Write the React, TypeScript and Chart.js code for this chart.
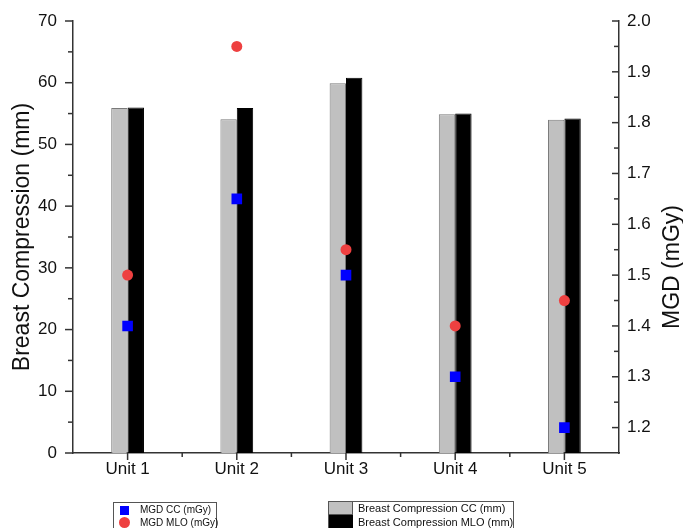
import React, { useEffect, useRef } from 'react';
import { Chart, registerables } from 'chart.js';

Chart.register(...registerables);

const categories = ['Unit 1', 'Unit 2', 'Unit 3', 'Unit 4', 'Unit 5'];
const compressionCC = [55.9, 54.1, 59.9, 54.9, 54.0];
const compressionMLO = [56.0, 55.9, 60.8, 55.0, 54.2];
const mgdCC = [1.4, 1.65, 1.5, 1.3, 1.2];
const mgdMLO = [1.5, 1.95, 1.55, 1.4, 1.45];
const leftTickValues = [0, 10, 20, 30, 40, 50, 60, 70];
const rightTickValues = [1.2, 1.3, 1.4, 1.5, 1.6, 1.7, 1.8, 1.9, 2.0];
const leftTitle = 'Breast Compression (mm)';
const rightTitle = 'MGD (mGy)';

const FONT = '"Liberation Sans", Arial, sans-serif';
const AXIS = '#333333';

const decorPlugin = {
  id: 'decor',
  afterDraw(chart: any) {
    const ctx = chart.ctx as CanvasRenderingContext2D;
    const yL = chart.scales.y;
    const yR = chart.scales.y1;
    const x = chart.scales.x;
    const area = chart.chartArea;
    ctx.save();
    ctx.strokeStyle = AXIS;
    ctx.lineWidth = 1.5;
    const line = (x1: number, y1: number, x2: number, y2: number) => {
      ctx.beginPath();
      ctx.moveTo(x1, y1);
      ctx.lineTo(x2, y2);
      ctx.stroke();
    };
    for (let i = 0; i <= 14; i++) {
      const v = i * 5;
      const py = yL.getPixelForValue(v);
      const len = i % 2 === 0 ? 8 : 5;
      line(area.left - len, py, area.left, py);
    }
    for (let i = 24; i <= 40; i++) {
      const v = i * 0.05;
      const py = yR.getPixelForValue(v);
      const len = i % 2 === 0 ? 7 : 5;
      line(area.right - len, py, area.right, py);
    }
    for (let i = 0; i < categories.length; i++) {
      const px = x.getPixelForValue(i);
      line(px, area.bottom, px, area.bottom + 7);
      if (i < categories.length - 1) {
        const pm = (px + x.getPixelForValue(i + 1)) / 2;
        line(pm, area.bottom, pm, area.bottom + 4);
      }
    }
    ctx.fillStyle = '#111';
    ctx.font = `23px ${FONT}`;
    ctx.textAlign = 'center';
    ctx.textBaseline = 'alphabetic';
    const cy = (area.top + area.bottom) / 2;
    ctx.save();
    ctx.translate(area.left - 44, cy);
    ctx.rotate(-Math.PI / 2);
    ctx.fillText(leftTitle, 0, 0);
    ctx.restore();
    ctx.save();
    ctx.translate(area.right + 60, cy + 30);
    ctx.rotate(-Math.PI / 2);
    ctx.fillText(rightTitle, 0, 0);
    ctx.restore();
    ctx.restore();
  },
};

function ChartView() {
  const ref = useRef<HTMLCanvasElement | null>(null);
  useEffect(() => {
    if (!ref.current) return;
    const chart = new Chart(ref.current, {
      type: 'bar',
      data: {
        labels: categories,
        datasets: [
          {
            type: 'line',
            label: 'MGD CC (mGy)',
            data: mgdCC,
            yAxisID: 'y1',
            showLine: false,
            pointStyle: 'rect',
            pointRadius: 7.5,
            backgroundColor: '#0000ff',
            borderColor: '#0000ff',
            borderWidth: 0,
            order: 0,
          } as any,
          {
            type: 'line',
            label: 'MGD MLO (mGy)',
            data: mgdMLO,
            yAxisID: 'y1',
            showLine: false,
            pointStyle: 'circle',
            pointRadius: 5.5,
            backgroundColor: '#ee4040',
            borderColor: '#ee4040',
            borderWidth: 0,
            order: 0,
          } as any,
          {
            type: 'bar',
            label: 'Breast Compression CC (mm)',
            data: compressionCC,
            yAxisID: 'y',
            backgroundColor: '#c0c0c0',
            borderColor: '#7a7a7a',
            borderWidth: 1,
            categoryPercentage: 0.3,
            barPercentage: 1.0,
            order: 1,
          },
          {
            type: 'bar',
            label: 'Breast Compression MLO (mm)',
            data: compressionMLO,
            yAxisID: 'y',
            backgroundColor: '#000000',
            borderColor: '#000000',
            borderWidth: 1,
            categoryPercentage: 0.3,
            barPercentage: 1.0,
            order: 1,
          },
        ],
      },
      options: {
        responsive: false,
        animation: false,
        layout: { padding: { top: 21, bottom: 33, left: 0, right: 0 } },
        plugins: {
          legend: { display: false },
          tooltip: { enabled: false },
        },
        scales: {
          x: {
            offset: true,
            grid: { display: false, drawTicks: false },
            border: { display: true, color: AXIS, width: 1.5 },
            ticks: {
              color: '#111',
              font: { family: FONT, size: 17 },
              padding: 6,
              maxRotation: 0,
            },
            afterFit: (s: any) => {
              s.height = 42;
            },
          },
          y: {
            position: 'left',
            min: 0,
            max: 70,
            grid: { display: false, drawTicks: false },
            border: { display: true, color: AXIS, width: 1.5 },
            ticks: {
              color: '#111',
              font: { family: FONT, size: 17 },
              padding: 16,
            },
            afterBuildTicks: (s: any) => {
              s.ticks = leftTickValues.map((v) => ({ value: v }));
            },
            afterFit: (s: any) => {
              s.width = 73;
              s.paddingTop = 10;
              s.paddingBottom = 10;
            },
          },
          y1: {
            position: 'right',
            min: 1.15,
            max: 2.0,
            grid: { display: false, drawTicks: false },
            border: { display: true, color: AXIS, width: 1.5 },
            ticks: {
              color: '#111',
              font: { family: FONT, size: 17 },
              padding: 8,
              callback: (v: any) => Number(v).toFixed(1),
            },
            afterBuildTicks: (s: any) => {
              s.ticks = rightTickValues.map((v) => ({ value: v }));
            },
            afterFit: (s: any) => {
              s.width = 64;
              s.paddingTop = 10;
              s.paddingBottom = 10;
            },
          },
        },
      },
      plugins: [decorPlugin],
    });
    return () => chart.destroy();
  }, []);
  return <canvas ref={ref} width={683} height={528} style={{ display: 'block' }} />;
}

const legendText: React.CSSProperties = {
  fontFamily: FONT,
  color: '#111',
  whiteSpace: 'nowrap',
  position: 'absolute',
};

export default function App() {
  return (
    <div style={{ position: 'fixed', left: 0, top: 0, width: 683, height: 528, background: '#fff', overflow: 'hidden' }}>
      <ChartView />
      <div
        style={{
          position: 'absolute',
          left: 113,
          top: 502,
          width: 104,
          height: 40,
          border: '1px solid #555',
          boxSizing: 'border-box',
        }}
      >
        <div style={{ position: 'absolute', left: 6, top: 3, width: 9, height: 9, background: '#0000ff' }} />
        <div style={{ ...legendText, left: 26, top: 0, fontSize: 10, lineHeight: '13px' }}>MGD CC (mGy)</div>
        <div
          style={{ position: 'absolute', left: 5, top: 14, width: 11, height: 11, borderRadius: '50%', background: '#ee4040' }}
        />
        <div style={{ ...legendText, left: 26, top: 13, fontSize: 10, lineHeight: '13px' }}>MGD MLO (mGy)</div>
      </div>
      <div
        style={{
          position: 'absolute',
          left: 328,
          top: 501,
          width: 186,
          height: 40,
          border: '1px solid #555',
          boxSizing: 'border-box',
        }}
      >
        <div
          style={{
            position: 'absolute',
            left: 0,
            top: 0,
            width: 24,
            height: 13,
            background: '#c0c0c0',
            borderRight: '1px solid #555',
            borderBottom: '1px solid #555',
            boxSizing: 'border-box',
          }}
        />
        <div style={{ ...legendText, left: 29, top: 0, fontSize: 11, lineHeight: '13px' }}>Breast Compression CC (mm)</div>
        <div style={{ position: 'absolute', left: 0, top: 13, width: 24, height: 14, background: '#000' }} />
        <div style={{ ...legendText, left: 29, top: 13, fontSize: 11, lineHeight: '14px' }}>Breast Compression MLO (mm)</div>
      </div>
    </div>
  );
}
